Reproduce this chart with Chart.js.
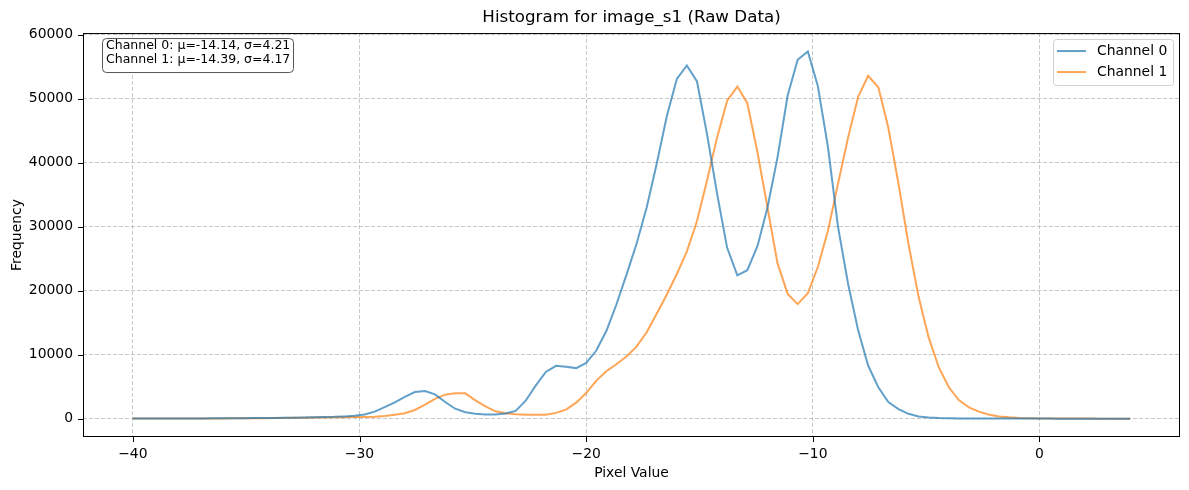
<!DOCTYPE html>
<html>
<head>
<meta charset="utf-8">
<script src="https://cdn.jsdelivr.net/npm/chart.js@4.4.1/dist/chart.umd.min.js"></script>
<style>
  html, body { margin: 0; padding: 0; background: #fff; }
  #wrap { width: 1189px; height: 490px; }
</style>
</head>
<body>
<div id="wrap"><canvas id="histChart" width="1189" height="490"></canvas></div>
<script>
// bin centres (Pixel Value)
var binCenters = [
  -40.00, -39.56, -39.11, -38.67, -38.22, -37.78, -37.33, -36.89, -36.44, -36.00,
  -35.56, -35.11, -34.67, -34.22, -33.78, -33.33, -32.89, -32.44, -32.00, -31.56,
  -31.11, -30.67, -30.22, -29.78, -29.33, -28.89, -28.44, -28.00, -27.56, -27.11,
  -26.67, -26.22, -25.78, -25.33, -24.89, -24.44, -24.00, -23.56, -23.11, -22.67,
  -22.22, -21.78, -21.33, -20.89, -20.44, -20.00, -19.56, -19.11, -18.67, -18.22,
  -17.78, -17.33, -16.89, -16.44, -16.00, -15.56, -15.11, -14.67, -14.22, -13.78,
  -13.33, -12.89, -12.44, -12.00, -11.56, -11.11, -10.67, -10.22, -9.78, -9.33,
  -8.89, -8.44, -8.00, -7.56, -7.11, -6.67, -6.22, -5.78, -5.33, -4.89,
  -4.44, -4.00, -3.56, -3.11, -2.67, -2.22, -1.78, -1.33, -0.89, -0.44,
  0.00, 0.44, 0.89, 1.33, 1.78, 2.22, 2.67, 3.11, 3.56, 4.00
];

var channel0 = [
  10, 12, 15, 18, 22, 26, 30, 36, 42, 50,
  60, 70, 85, 100, 115, 130, 150, 180, 210, 250,
  280, 350, 450, 650, 1100, 1800, 2550, 3400, 4150, 4300,
  3800, 2600, 1550, 1000, 750, 640, 630, 820, 1200, 2800,
  5200, 7300, 8250, 8100, 7900, 8700, 10600, 13700, 17800, 22500,
  27300, 33000, 39800, 47300, 53100, 55200, 52700, 44500, 35100, 26700,
  22400, 23200, 27000, 33000, 40800, 50500, 56100, 57400, 52000, 42400,
  30000, 21000, 13800, 8300, 4900, 2600, 1500, 750, 350, 170,
  90, 50, 30, 20, 15, 10, 8, 6, 5, 4,
  3, 3, 2, 2, 1, 1, 1, 1, 0, 0
];

var channel1 = [
  8, 10, 12, 14, 16, 20, 24, 28, 34, 40,
  48, 56, 66, 78, 90, 105, 120, 140, 160, 185,
  200, 220, 240, 260, 300, 400, 600, 850, 1350, 2200,
  3100, 3750, 3950, 3950, 2850, 1900, 1150, 850, 680, 620,
  620, 600, 900, 1400, 2500, 4000, 5900, 7400, 8500, 9700,
  11250, 13500, 16400, 19400, 22600, 26100, 30900, 37200, 44000, 49700,
  51900, 49300, 41600, 33000, 24300, 19500, 17900, 19600, 23700, 29400,
  36700, 44000, 50300, 53600, 51800, 45500, 36700, 27300, 19000, 12700,
  8000, 4900, 2900, 1770, 1100, 620, 350, 200, 110, 60,
  30, 20, 12, 8, 5, 3, 2, 1, 1, 0
];

var seriesLabels = ['Channel 0', 'Channel 1'];
var seriesColors = ['rgba(31, 119, 180, 0.7)', 'rgba(255, 127, 14, 0.7)'];
var xTicks = [-40, -30, -20, -10, 0];
var yTicks = [0, 10000, 20000, 30000, 40000, 50000, 60000];
var statsLines = [
  'Channel 0: \u03bc=-14.14, \u03c3=4.21',
  'Channel 1: \u03bc=-14.39, \u03c3=4.17'
];

Chart.defaults.font.family = "'DejaVu Sans', sans-serif";
Chart.defaults.color = '#000';

// frame, tick marks, stats box and legend drawn matplotlib-style
var overlayPlugin = {
  id: 'overlay',
  afterDraw: function (chart) {
    var ctx = chart.ctx;
    var a = chart.chartArea;
    var sx = chart.scales.x, sy = chart.scales.y;
    ctx.save();

    ctx.strokeStyle = '#000';
    ctx.lineWidth = 1;
    ctx.setLineDash([]);
    ctx.beginPath();
    sx.ticks.forEach(function (t) {
      var px = Math.round(sx.getPixelForValue(t.value)) + 0.5;
      ctx.moveTo(px, a.bottom);
      ctx.lineTo(px, a.bottom + 5);
    });
    sy.ticks.forEach(function (t) {
      var py = Math.round(sy.getPixelForValue(t.value)) + 0.5;
      ctx.moveTo(a.left - 5, py);
      ctx.lineTo(a.left, py);
    });
    ctx.stroke();
    ctx.strokeRect(a.left + 0.5, a.top + 0.5, a.right - a.left - 1, a.bottom - a.top - 1);

    // stats text box
    ctx.beginPath();
    ctx.roundRect(a.left + 19.5, a.top + 5.5, 191, 34, 4);
    ctx.fillStyle = 'rgba(255,255,255,0.9)';
    ctx.fill();
    ctx.strokeStyle = '#555';
    ctx.stroke();
    ctx.fillStyle = '#000';
    ctx.font = "12.5px 'DejaVu Sans'";
    ctx.textBaseline = 'middle';
    ctx.textAlign = 'left';
    statsLines.forEach(function (s, i) {
      ctx.fillText(s, a.left + 23, a.top + 13 + i * 13.5);
    });

    // legend
    var lx = a.right - 127, ly = a.top + 6;
    ctx.beginPath();
    ctx.roundRect(lx + 0.5, ly + 0.5, 120, 46, 3);
    ctx.fillStyle = 'rgba(255,255,255,0.8)';
    ctx.fill();
    ctx.strokeStyle = '#d0d0d0';
    ctx.stroke();
    ctx.font = "13.9px 'DejaVu Sans'";
    chart.data.datasets.forEach(function (ds, i) {
      var y = ly + 12 + i * 21;
      ctx.strokeStyle = ds.borderColor;
      ctx.lineWidth = 2;
      ctx.beginPath();
      ctx.moveTo(lx + 4, y);
      ctx.lineTo(lx + 33, y);
      ctx.stroke();
      ctx.fillStyle = '#000';
      ctx.fillText(ds.label, lx + 44, y);
    });
    ctx.restore();
  }
};

var ctx = document.getElementById('histChart').getContext('2d');
var histChart = new Chart(ctx, {
  type: 'line',
  data: {
    datasets: [0, 1].map(function (k) {
      var vals = k === 0 ? channel0 : channel1;
      return {
        label: seriesLabels[k],
        data: binCenters.map(function (x, i) { return { x: x, y: vals[i] }; }),
        borderColor: seriesColors[k],
        backgroundColor: seriesColors[k],
        borderWidth: 2,
        pointRadius: 0,
        tension: 0,
        fill: false
      };
    })
  },
  options: {
    responsive: false,
    animation: false,
    layout: { padding: { left: 0, right: 9, top: 0, bottom: 0 } },
    scales: {
      x: {
        type: 'linear',
        min: -42.2,
        max: 6.2,
        afterBuildTicks: function (scale) {
          scale.ticks = xTicks.map(function (v) { return { value: v }; });
        },
        afterFit: function (scale) { scale.height = 53; },
        grid: { color: 'rgba(176,176,176,0.7)', lineWidth: 1, drawTicks: false },
        border: { display: false, dash: [4, 2] },
        ticks: {
          padding: 9,
          maxRotation: 0,
          font: { size: 13.9 },
          callback: function (v) { return v < 0 ? '\u2212' + Math.abs(v) : String(v); }
        },
        title: { display: true, text: 'Pixel Value', font: { size: 13.9 }, padding: { top: 0, bottom: 8 } }
      },
      y: {
        min: -2870,
        max: 60270,
        afterBuildTicks: function (scale) {
          scale.ticks = yTicks.map(function (v) { return { value: v }; });
        },
        afterFit: function (scale) { scale.width = 83; },
        grid: { color: 'rgba(176,176,176,0.7)', lineWidth: 1, drawTicks: false },
        border: { display: false, dash: [4, 2] },
        ticks: {
          padding: 10,
          font: { size: 13.9 },
          callback: function (v) { return String(v); }
        },
        title: { display: true, text: 'Frequency', font: { size: 13.9 }, padding: { top: 9, bottom: 0 } }
      }
    },
    plugins: {
      legend: { display: false },
      tooltip: { enabled: false },
      title: {
        display: true,
        text: 'Histogram for image_s1 (Raw Data)',
        fullSize: false,
        font: { size: 16.7, weight: 'normal' },
        padding: { top: 8, bottom: 5 }
      }
    }
  },
  plugins: [overlayPlugin]
});
</script>
</body>
</html>
